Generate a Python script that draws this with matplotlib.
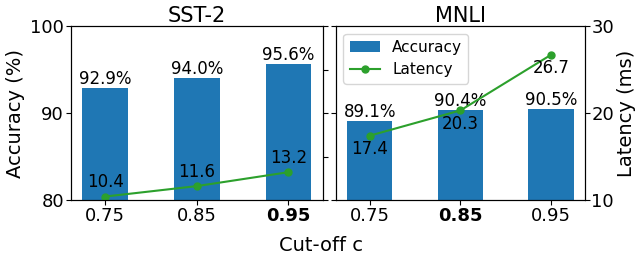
import matplotlib
matplotlib.use("Agg")
import matplotlib.pyplot as plt
import numpy as np

cutoffs = ["0.75", "0.85", "0.95"]
tasks = ["SST-2", "MNLI"]
accuracy = {"SST-2": [92.9, 94.0, 95.6], "MNLI": [89.1, 90.4, 90.5]}
latency = {"SST-2": [10.4, 11.6, 13.2], "MNLI": [17.4, 20.3, 26.7]}
best = {"SST-2": 2, "MNLI": 1}

FS = 13
fig = plt.figure(figsize=(6.36, 2.64), dpi=100)
boxes = [[0.1116, 0.2424, 0.396, 0.659], [0.528, 0.2424, 0.392, 0.659]]

x = np.arange(len(cutoffs))
for k, task in enumerate(tasks):
    ax = fig.add_axes(boxes[k])
    bars = ax.bar(x, accuracy[task], width=0.5, color="tab:blue", label="Accuracy")
    ax.set_ylim(80, 100)
    ax.set_yticks([80, 90, 100])
    ax.set_xticks(x)
    ax.set_xticklabels(cutoffs, fontsize=FS)
    ax.get_xticklabels()[best[task]].set_fontweight("bold")
    ax.tick_params(pad=1.5)
    ax.set_title(task, fontsize=FS + 2, pad=3)
    for xi, a in zip(x, accuracy[task]):
        ax.text(xi, a, "%.1f%%" % a, ha="center", va="bottom", fontsize=FS - 1)
    if k == 0:
        ax.tick_params(axis="y", labelsize=FS)
        ax.set_ylabel("Accuracy (%)", fontsize=FS + 1)
    else:
        ax.tick_params(axis="y", labelleft=False)

    ax2 = ax.twinx()
    line, = ax2.plot(x, latency[task], color="tab:green", marker="o", markersize=5,
                     label="Latency")
    ax2.set_ylim(10, 30)
    ax2.tick_params(pad=1)
    if k == 0:
        ax2.set_yticks([10, 15, 20, 25, 30])
        ax2.tick_params(axis="y", labelright=False)
        for xi, l in zip(x, latency[task]):
            ax2.annotate("%.1f" % l, (xi, l), xytext=(0, 4), textcoords="offset points",
                         ha="center", va="bottom", fontsize=FS - 1)
    else:
        ax2.set_yticks([10, 20, 30])
        ax2.tick_params(axis="y", labelsize=FS)
        ax2.set_ylabel("Latency (ms)", fontsize=FS + 1, labelpad=2)
        for xi, l in zip(x, latency[task]):
            ax2.annotate("%.1f" % l, (xi, l), xytext=(0, -3), textcoords="offset points",
                         ha="center", va="top", fontsize=FS - 1)
        ax.legend([bars, line], ["Accuracy", "Latency"], loc="upper left", fontsize=11)

fig.text(0.505, 0.035, "Cut-off c", ha="center", va="bottom", fontsize=FS + 1)
fig.savefig("out.png", dpi=100)
